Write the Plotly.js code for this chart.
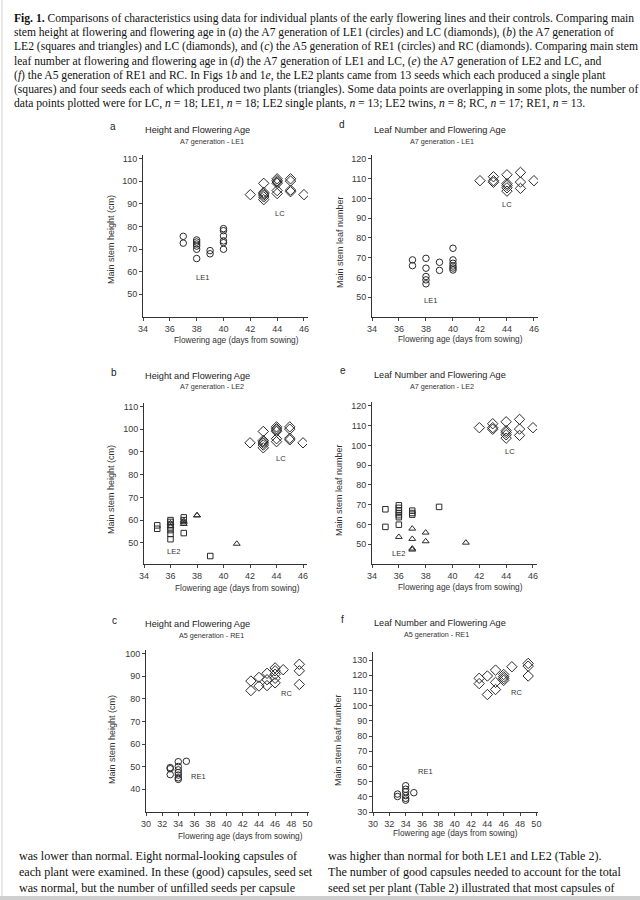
<!DOCTYPE html>
<html><head><meta charset="utf-8">
<script src="https://cdn.plot.ly/plotly-3.0.1.min.js"></script>
<style>html,body{margin:0;padding:0;background:#fff}#chart{width:640px;height:900px}</style>
</head><body><div id="chart"></div>
<script>
// ---------- DATA ----------
// Panel a & b: LC controls, height (cm) vs flowering age (days)
const lcAgeH    = [42, 43,43,43,43,43,43, 44,44,44,44,44,44, 45,45,45,45, 46];
const lcHeight  = [94, 99,95,94.4,93.8,93,91.8, 101,100.2,99.6,99,95.8,94.5, 101,100,96,95.3, 94];
// Panel d & e: LC controls, leaf number
const lcAgeL    = [42, 43,43,43, 44,44,44,44,44, 45,45,45, 46];
const lcLeaf    = [109, 111,109,108.2, 112,107.5,106.6,105.4,103.7, 113.2,108.3,105.1, 109];
// Panel a: LE1 height
const le1AgeH   = [37,37,38,38,38,38,38,38,39,39,40,40,40,40,40,40];
const le1Height = [75.6,72.6,74,73.1,72.2,71.3,69.9,65.8,69.3,67.9,79,78.1,75.8,73.6,72.8,69.9];
// Panel d: LE1 leaf number
const le1AgeL   = [37,37,38,38,38,38,38,39,39,40,40,40,40,40,40];
const le1Leaf   = [68.9,66,69.7,64.7,60.5,58.8,56.8,67.7,63.6,74.8,68.9,67.2,65.8,64.8,63.8];
// Panel b: LE2 single plants (squares) and twins (triangles), height
const le2SAgeH   = [35,35,36,36,36,36,36,36,36,37,37,37,39];
const le2SHeight = [57.7,56.2,60,59.2,58,56.8,55.6,53.9,51.6,61.2,60,54.3,44.2];
const le2TAgeH   = [36,36,37,37,37,38,38,41];
const le2THeight = [58.6,57.2,59.7,59,58.3,62.1,62.1,49.6];
// Panel e: LE2 single plants and twins, leaf number
const le2SAgeL   = [35,35,36,36,36,36,36,36,36,37,37,37,39];
const le2SLeaf   = [67.7,58.8,69.7,68.4,67.2,65.8,64.7,63.7,59.9,67,65.8,65,68.9];
const le2TAgeL   = [36,37,37,37,37,38,38,41];
const le2TLeaf   = [53.7,57.9,52.7,47.8,47.3,55.9,51.5,50.8];
// Panel c: RE1 and RC height
const re1AgeH    = [33,33,33,34,34,34,34,34,34,34,35];
const re1Height  = [49.6,49.1,46.5,52.2,50.1,48.6,47.4,46.3,45.1,44.4,52.4];
const rcAgeH     = [43,43,44,44,45,45,45,46,46,46,46,46,47,49,49,49];
const rcHeight   = [87.8,83.6,89.4,85.6,91.2,88.4,85.8,93.6,92.3,90.8,89,87,92.8,95.2,92.3,86.3];
// Panel f: RE1 and RC leaf number
const re1AgeL    = [33,33,34,34,34,34,34,34,35];
const re1Leaf    = [41.8,40.2,47.3,45,43.3,40.8,39,37.8,42.7];
const rcAgeL     = [43,43,44,44,45,45,45,46,46,46,46,47,49,49,49];
const rcLeaf     = [118,114.5,119.5,107.3,123.4,115.3,110.6,120.5,119,117.8,116.6,125.6,127.8,126,119.5];
// Tick labels
const ageTicksA7  = [34,36,38,40,42,44,46];
const ageTicksA5  = [30,32,34,36,38,40,42,44,46,48,50];
const heightTicksA7 = [50,60,70,80,90,100,110];
const leafTicksA7   = [50,60,70,80,90,100,110,120];
const heightTicksA5 = [40,50,60,70,80,90,100];
const leafTicksA5   = [30,40,50,60,70,80,90,100,110,120,130];
// Text
const panelLetters = ['a','d','b','e','c','f'];
const panelTitles  = ['Height and Flowering Age','Leaf Number and Flowering Age','Height and Flowering Age','Leaf Number and Flowering Age','Height and Flowering Age','Leaf Number and Flowering Age'];
const panelSubs    = ['A7 generation - LE1','A7 generation - LE1','A7 generation - LE2','A7 generation - LE2','A5 generation - RE1','A5 generation - RE1'];
const yTitles      = ['Main stem height (cm)','Main stem leaf number','Main stem height (cm)','Main stem leaf number','Main stem height (cm)','Main stem leaf number'];
const xTitle       = 'Flowering age (days from sowing)';
const caption = [
 '<b>Fig. 1.</b> Comparisons of characteristics using data for individual plants of the early flowering lines and their controls. Comparing main',
 'stem height at flowering and flowering age in (<i>a</i>) the A7 generation of LE1 (circles) and LC (diamonds), (<i>b</i>) the A7 generation of',
 'LE2 (squares and triangles) and LC (diamonds), and (<i>c</i>) the A5 generation of RE1 (circles) and RC (diamonds). Comparing main stem',
 'leaf number at flowering and flowering age in (<i>d</i>) the A7 generation of LE1 and LC, (<i>e</i>) the A7 generation of LE2 and LC, and',
 '(<i>f</i>) the A5 generation of RE1 and RC. In Figs 1<i>b</i> and 1<i>e</i>, the LE2 plants came from 13 seeds which each produced a single plant',
 '(squares) and four seeds each of which produced two plants (triangles). Some data points are overlapping in some plots, the number of',
 'data points plotted were for LC, <i>n</i> = 18; LE1, <i>n</i> = 18; LE2 single plants, <i>n</i> = 13; LE2 twins, <i>n</i> = 8; RC, <i>n</i> = 17; RE1, <i>n</i> = 13.'
];
const bodyLeft = ['was lower than normal. Eight normal-looking capsules of','each plant were examined. In these (good) capsules, seed set','was normal, but the number of unfilled seeds per capsule'];
const bodyRight = ['was higher than normal for both LE1 and LE2 (Table 2).','The number of good capsules needed to account for the total','seed set per plant (Table 2) illustrated that most capsules of'];

// ---------- LAYOUT GEOMETRY (pixels) ----------
const W = 640, H = 900;
const px = v => v / W, py = v => 1 - v / H;
const panels = [
  {box:[143,308,155,317], xr:[34,46.3], yr:[40,111.5], xt:ageTicksA7, yt:heightTicksA7},
  {box:[372,538,155,317], xr:[34,46.3], yr:[40,122],   xt:ageTicksA7, yt:leafTicksA7},
  {box:[144,307,403,564], xr:[34,46.3], yr:[40.7,111.5], xt:ageTicksA7, yt:heightTicksA7},
  {box:[372,537,402,564], xr:[34,46.3], yr:[40,122],   xt:ageTicksA7, yt:leafTicksA7},
  {box:[146,309,650,812], xr:[30,50.2], yr:[30,101.5], xt:ageTicksA5, yt:heightTicksA5},
  {box:[373,538,652,812], xr:[30,50.2], yr:[30,135.3], xt:ageTicksA5, yt:leafTicksA5}
];
const ink = '#2b2b2b';
const sans = 'Liberation Sans, Arial, sans-serif';
const serif = 'Liberation Serif, Times New Roman, serif';

const layout = {width:W, height:H, margin:{l:0,r:0,t:0,b:0}, showlegend:false,
  paper_bgcolor:'#fff', plot_bgcolor:'#fff', annotations:[],
  shapes:[
    {type:'line',xref:'paper',yref:'paper',x0:px(2),x1:px(2),y0:0,y1:1,line:{color:'#d4d4d4',width:1}},
    {type:'rect',xref:'paper',yref:'paper',x0:0,x1:1,y0:0,y1:py(896),fillcolor:'#cfcfcf',line:{width:0}}
  ]};

panels.forEach((p,i)=>{
  const n = i+1, sx = n===1?'':n;
  layout['xaxis'+sx] = {domain:[px(p.box[0]),px(p.box[1])], range:p.xr, anchor:'y'+sx,
    tickvals:p.xt, ticks:'outside', ticklen:3, tickcolor:'#444', showline:true, linecolor:'#333', linewidth:1,
    showgrid:false, zeroline:false, tickfont:{family:sans,size:9,color:'#3a3a3a'}, fixedrange:true};
  layout['yaxis'+sx] = {domain:[py(p.box[3]),py(p.box[2])], range:p.yr, anchor:'x'+sx,
    tickvals:p.yt, ticks:'outside', ticklen:3, tickcolor:'#444', showline:true, linecolor:'#333', linewidth:1,
    showgrid:false, zeroline:false, tickfont:{family:sans,size:9,color:'#3a3a3a'}, fixedrange:true};
});

const letterPos = [[113,126],[342,124],[114,372],[343,370],[114,620],[342,619]];
const titlePos  = [[197,130],[440,130],[197,376],[440,375],[197,624],[440,623]];
const subPos    = [[212,141],[442,141],[212,387],[442,386],[211,635],[436,634]];
const yTitlePos = [[111,240],[340,242],[111,490],[339,490],[112,740],[338,740]];
const xTitlePos = [[236,340],[460,339],[237,588],[460,587],[240,836],[455,833]];
for(let i=0;i<6;i++){
  const A = layout.annotations;
  A.push({xref:'paper',yref:'paper',x:px(letterPos[i][0]),y:py(letterPos[i][1]),text:panelLetters[i],showarrow:false,
    font:{family:sans,size:10,color:'#222'},xanchor:'center',yanchor:'middle'});
  A.push({xref:'paper',yref:'paper',x:px(titlePos[i][0]),y:py(titlePos[i][1]),text:panelTitles[i],showarrow:false,
    font:{family:sans,size:9.2,color:'#222'},xanchor:'center',yanchor:'middle'});
  A.push({xref:'paper',yref:'paper',x:px(subPos[i][0]),y:py(subPos[i][1]),text:panelSubs[i],showarrow:false,
    font:{family:sans,size:7.2,color:'#333'},xanchor:'center',yanchor:'middle'});
  A.push({xref:'paper',yref:'paper',x:px(yTitlePos[i][0]),y:py(yTitlePos[i][1]),text:yTitles[i],showarrow:false,textangle:-90,
    font:{family:sans,size:9,color:'#333'},xanchor:'center',yanchor:'middle'});
  A.push({xref:'paper',yref:'paper',x:px(xTitlePos[i][0]),y:py(xTitlePos[i][1]),text:xTitle,showarrow:false,
    font:{family:sans,size:8.3,color:'#333'},xanchor:'center',yanchor:'middle'});
}
const groupLabels = [
  ['x','y','LE1',38.4,57.5],['x','y','LC',44.2,85.8],
  ['x2','y2','LE1',38.3,48.6],['x2','y2','LC',44.0,96.7],
  ['x3','y3','LE2',36.2,46],['x3','y3','LC',44.3,86.9],
  ['x4','y4','LE2',36.0,45.5],['x4','y4','LC',44.3,96.7],
  ['x5','y5','RE1',36.5,45.7],['x5','y5','RC',47.4,82.5],
  ['x6','y6','RE1',36.4,56.5],['x6','y6','RC',47.6,108.7]
];
groupLabels.forEach(g=>layout.annotations.push({xref:g[0],yref:g[1],x:g[3],y:g[4],text:g[2],showarrow:false,
  font:{family:sans,size:7.5,color:'#333'},xanchor:'center',yanchor:'middle'}));

const capY = [18,32.5,47,61,75,89,103];
caption.forEach((t,i)=>layout.annotations.push({xref:'paper',yref:'paper',x:px(12),y:py(capY[i]),text:t,showarrow:false,
  font:{family:serif,size:11.6,color:'#111'},xanchor:'left',yanchor:'middle'}));
const bodyY = [856,872,888];
bodyLeft.forEach((t,i)=>layout.annotations.push({xref:'paper',yref:'paper',x:px(17),y:py(bodyY[i]),text:t,showarrow:false,
  font:{family:serif,size:12.1,color:'#111'},xanchor:'left',yanchor:'middle'}));
bodyRight.forEach((t,i)=>layout.annotations.push({xref:'paper',yref:'paper',x:px(326),y:py(bodyY[i]),text:t,showarrow:false,
  font:{family:serif,size:12.1,color:'#111'},xanchor:'left',yanchor:'middle'}));

// ---------- TRACES ----------
const mk = (sym,size)=>({symbol:sym,size:size,color:ink,line:{color:ink,width:1}});
const sc = (x,y,ax,sym,size,name)=>({type:'scatter',mode:'markers',x:x,y:y,xaxis:ax[0],yaxis:ax[1],marker:mk(sym,size),name:name,hoverinfo:'x+y'});
const traces = [
  sc(le1AgeH,le1Height,['x','y'],'circle-open',6.5,'LE1'),
  sc(lcAgeH,lcHeight,['x','y'],'diamond-open',8,'LC'),
  sc(le1AgeL,le1Leaf,['x2','y2'],'circle-open',6.5,'LE1'),
  sc(lcAgeL,lcLeaf,['x2','y2'],'diamond-open',8,'LC'),
  sc(le2SAgeH,le2SHeight,['x3','y3'],'square-open',5.5,'LE2 single'),
  sc(le2TAgeH,le2THeight,['x3','y3'],'triangle-up-open',6,'LE2 twins'),
  sc(lcAgeH,lcHeight,['x3','y3'],'diamond-open',8,'LC'),
  sc(le2SAgeL,le2SLeaf,['x4','y4'],'square-open',5.5,'LE2 single'),
  sc(le2TAgeL,le2TLeaf,['x4','y4'],'triangle-up-open',6,'LE2 twins'),
  sc(lcAgeL,lcLeaf,['x4','y4'],'diamond-open',8,'LC'),
  sc(re1AgeH,re1Height,['x5','y5'],'circle-open',6.5,'RE1'),
  sc(rcAgeH,rcHeight,['x5','y5'],'diamond-open',8,'RC'),
  sc(re1AgeL,re1Leaf,['x6','y6'],'circle-open',6.5,'RE1'),
  sc(rcAgeL,rcLeaf,['x6','y6'],'diamond-open',8,'RC')
];
Plotly.newPlot('chart', traces, layout, {displayModeBar:false, staticPlot:true});
</script></body></html>
